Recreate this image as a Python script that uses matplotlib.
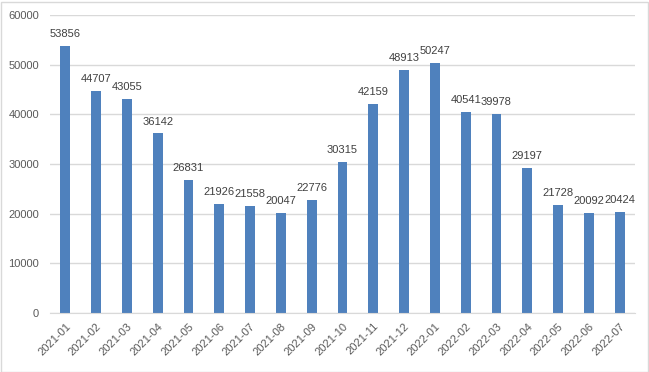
import matplotlib
matplotlib.use("Agg")
import matplotlib.pyplot as plt
from matplotlib.patches import Rectangle

months = ["2021-01", "2021-02", "2021-03", "2021-04", "2021-05", "2021-06",
          "2021-07", "2021-08", "2021-09", "2021-10", "2021-11", "2021-12",
          "2022-01", "2022-02", "2022-03", "2022-04", "2022-05", "2022-06",
          "2022-07"]
counts = [53856, 44707, 43055, 36142, 26831, 21926, 21558, 20047, 22776,
          30315, 42159, 48913, 50247, 40541, 39978, 29197, 21728, 20092,
          20424]
yticks = [0, 10000, 20000, 30000, 40000, 50000, 60000]

plt.rcParams['font.family'] = ['Liberation Sans', 'DejaVu Sans']

fig = plt.figure(figsize=(6.49, 3.72), dpi=100)
ax = fig.add_axes([50 / 649, 1 - 313 / 372, 585 / 649, 298 / 372])

x = range(len(months))
bars = ax.bar(x, counts, width=0.32, color="#4F81BD", zorder=3)

for xi, v in zip(x, counts):
    ax.annotate(str(v), (xi, v), xytext=(0, 5), textcoords="offset points",
                ha="center", va="bottom", fontsize=8, color="#404040")

ax.set_xlim(-0.5, len(months) - 0.5)
ax.set_ylim(0, 60000)
ax.set_yticks(yticks)
ax.set_yticklabels([str(t) for t in yticks])
ax.set_xticks(list(x))
ax.set_xticklabels(months, rotation=45, ha="right", rotation_mode="anchor")
ax.tick_params(axis="both", length=0, labelsize=8, colors="#595959")
ax.tick_params(axis="y", pad=8)
ax.tick_params(axis="x", pad=6)
ax.grid(axis="y", color="#D9D9D9", linewidth=1, zorder=0)
for s in ["top", "right", "left"]:
    ax.spines[s].set_visible(False)
ax.spines["bottom"].set_color("#D9D9D9")
ax.spines["bottom"].set_zorder(4)

# outer chart border
fig.patches.append(Rectangle((0.5 / 649, 0.5 / 372), 647 / 649, 370 / 372,
                             transform=fig.transFigure, fill=False,
                             edgecolor="#D9D9D9", linewidth=1))

fig.savefig("out.png", dpi=100)
